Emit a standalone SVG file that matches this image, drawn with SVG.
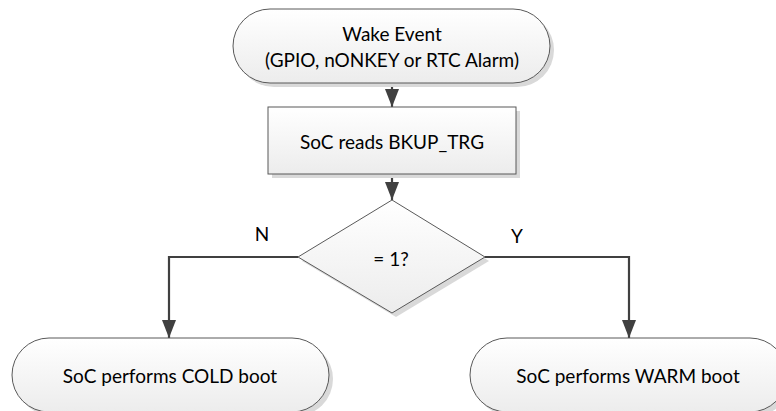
<svg xmlns="http://www.w3.org/2000/svg" width="776" height="411" viewBox="0 0 776 411">
<defs>
<linearGradient id="g" x1="0" y1="0" x2="0" y2="1">
<stop offset="0" stop-color="#ffffff"/>
<stop offset="1" stop-color="#ececec"/>
</linearGradient>
<marker id="arr" viewBox="0 0 18 14" refX="18" refY="7" markerWidth="18" markerHeight="14" markerUnits="userSpaceOnUse" orient="auto">
<path d="M0,0 L18,7 L0,14 Z" fill="#404040"/>
</marker>
</defs>
<style>
.shape{fill:url(#g);stroke:#595959;stroke-width:1}
.shadow{fill:#d9d9d9}
.conn{fill:none;stroke:#404040;stroke-width:2.2}
text{font-family:Lato,"Open Sans","Liberation Sans",sans-serif;font-size:19px;fill:#000;text-anchor:middle;dominant-baseline:central}
</style>
<rect width="776" height="411" fill="#ffffff"/>
<g id="connectors">
<path class="conn" d="M392,83 V107" marker-end="url(#arr)"/>
<path class="conn" d="M392,174 V200" marker-end="url(#arr)"/>
<path class="conn" d="M298,257 H169 V338" marker-end="url(#arr)"/>
<path class="conn" d="M485,257 H629 V338" marker-end="url(#arr)"/>
</g>
<g id="wake">
<rect class="shadow" x="237" y="13" width="317" height="74" rx="37"/>
<rect class="shape" x="233" y="9" width="317" height="74" rx="37"/>
<text x="392" y="33">Wake Event</text>
<text x="392" y="59">(GPIO, nONKEY or RTC Alarm)</text>
</g>
<g id="reads">
<rect class="shadow" x="272" y="111" width="248" height="67"/>
<rect class="shape" x="268" y="107" width="248" height="67"/>
<text x="392" y="141">SoC reads BKUP_TRG</text>
</g>
<g id="decision">
<polygon class="shadow" points="396,204 489,261 396,317 302,261"/>
<polygon class="shape" points="392,200 485,257 392,313 298,257"/>
<text x="391" y="258">= 1?</text>
</g>
<text x="262" y="233">N</text>
<text x="517" y="235">Y</text>
<g id="cold">
<rect class="shadow" x="16" y="342" width="317" height="74" rx="37"/>
<rect class="shape" x="12" y="338" width="317" height="74" rx="37"/>
<text x="170" y="375">SoC performs COLD boot</text>
</g>
<g id="warm">
<rect class="shadow" x="474" y="342" width="317" height="74" rx="37"/>
<rect class="shape" x="470" y="338" width="317" height="74" rx="37"/>
<text x="628" y="375">SoC performs WARM boot</text>
</g>
</svg>
